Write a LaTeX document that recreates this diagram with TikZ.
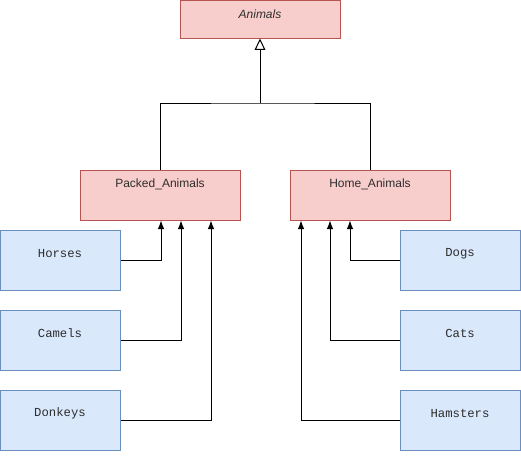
\documentclass[tikz,border=0pt]{standalone}
\usepackage{fontspec}
\setmainfont{Liberation Sans}
\setmonofont{Liberation Mono}
\usetikzlibrary{arrows.meta}

\definecolor{redfill}{RGB}{248,206,204}
\definecolor{redline}{RGB}{184,84,80}
\definecolor{bluefill}{RGB}{218,232,252}
\definecolor{blueline}{RGB}{108,142,191}
\definecolor{inkgray}{RGB}{45,45,45}

\tikzset{
  classbox/.style={draw=redline, fill=redfill, line width=0.75pt, inner sep=0pt,
    minimum width=120pt, minimum height=37.5pt,
    label={[anchor=center, yshift=-11.25pt, text=inkgray, font=\fontsize{9}{11}\selectfont]north:#1}},
  petbox/.style={draw=blueline, fill=bluefill, line width=0.75pt, inner sep=0pt,
    minimum width=90pt, minimum height=45pt,
    label={[anchor=center, yshift=-18pt, text=inkgray, font=\ttfamily\fontsize{9.2}{11}\selectfont]north:#1}},
  feed/.style={line width=0.75pt, -{Latex[length=6.5pt, width=5pt]}},
  inherit/.style={line width=0.75pt, -{Triangle[open, length=8.5pt, width=8pt, line width=0.75pt]}}
}

\begin{document}
\begin{tikzpicture}[x=0.75pt,y=0.75pt,yscale=-1,xscale=1]
\useasboundingbox (0,0) rectangle (521,469);

% Parent classes
\node [classbox={\itshape Animals}, minimum height=28.5pt] (animals) at (260,19) {};
\node [classbox={Packed\_Animals}] (packed) at (160,195) {};
\node [classbox={Home\_Animals}] (home) at (370,195) {};

% Leaf classes
\node [petbox={Horses}] (horses) at (60,260) {};
\node [petbox={Camels}] (camels) at (60,340) {};
\node [petbox={Donkeys}] (donkeys) at (60,420) {};
\node [petbox={Dogs}] (dogs) at (460,260) {};
\node [petbox={Cats}] (cats) at (460,340) {};
\node [petbox={Hamsters}] (hamsters) at (460,420) {};

% Generalisation
\coordinate (joint) at (260,103);
\draw [line width=0.75pt] (packed.north) |- (joint) -| (home.north);
\draw [inherit] (joint) -- (animals.south);

% Links to Packed_Animals
\draw [feed] (horses.east) -| ([xshift=0.75pt]packed.south);
\draw [feed] (camels.east) -| ([xshift=15.75pt]packed.south);
\draw [feed] (donkeys.east) -| ([xshift=38.25pt]packed.south);

% Links to Home_Animals
\draw [feed] (dogs.west) -| ([xshift=-15pt]home.south);
\draw [feed] (cats.west) -| ([xshift=-30pt]home.south);
\draw [feed] (hamsters.west) -| ([xshift=-51.75pt]home.south);
\end{tikzpicture}
\end{document}
